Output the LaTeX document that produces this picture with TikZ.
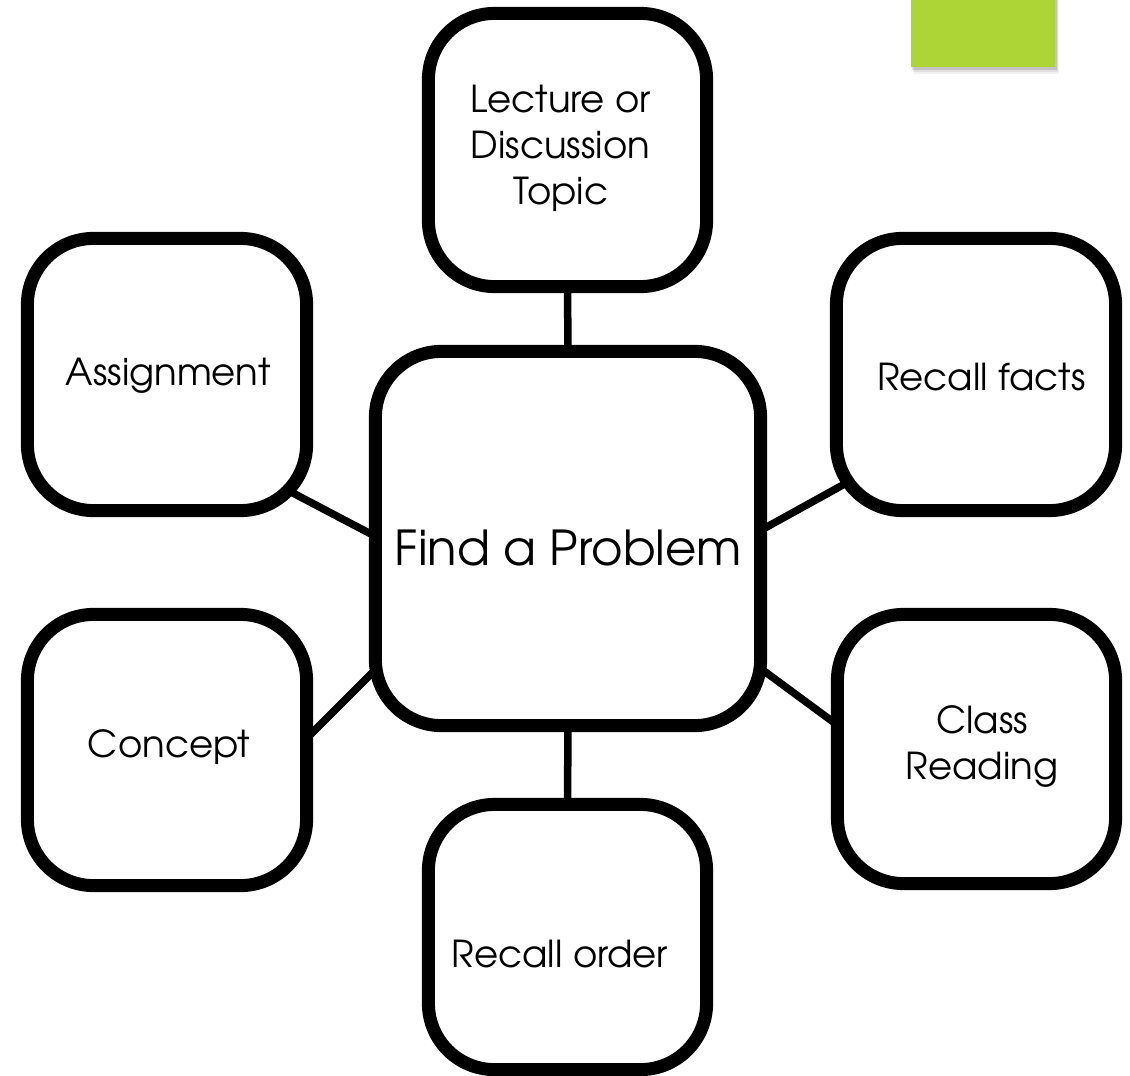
\documentclass[tikz,border=0pt]{standalone}
\usepackage{fontspec}
\setmainfont{texgyreadventor-regular.otf}
\usetikzlibrary{calc,backgrounds}
\definecolor{limetab}{HTML}{ADD535}
\begin{document}
\begin{tikzpicture}[x=0.01cm,y=-0.01cm,
  box/.style={draw=black,line width=0.13cm,rounded corners=0.66cm,fill=white,inner sep=0pt,outer sep=0pt},
  conn/.style={draw=black,line width=0.075cm},
  txt/.style={font=\fontsize{10.55pt}{12pt}\selectfont,inner sep=0pt,anchor=base},
  bigtxt/.style={font=\fontsize{13.7pt}{16pt}\selectfont,inner sep=0pt,anchor=base}]
\useasboundingbox (0,0) rectangle (1130,1076);

% green tab with soft shadow
\foreach \o/\a in {7/0.05,5/0.08,3/0.12}{
  \fill[black,opacity=\a] (911+\o*0.4,0) rectangle (1055+\o*0.6,67+\o);
}
\node[fill=limetab,minimum width=1.44cm,minimum height=0.70cm,anchor=south west,inner sep=0pt,outer sep=0pt] (tab) at (911,67) {};

% boxes
\node[box,minimum width=2.78cm,minimum height=2.73cm] (topic) at (567.5,150) {};
\node[box,minimum width=2.79cm,minimum height=2.72cm] (assign) at (167,374.5) {};
\node[box,minimum width=3.85cm,minimum height=3.74cm] (center) at (568,538.5) {};
\node[box,minimum width=2.79cm,minimum height=2.72cm] (facts) at (976,374.5) {};
\node[box,minimum width=2.79cm,minimum height=2.71cm] (concept) at (167,750) {};
\node[box,minimum width=2.78cm,minimum height=2.69cm] (reading) at (976.5,749) {};
\node[box,minimum width=2.78cm,minimum height=2.65cm] (order) at (567.5,937) {};

% texts
\node[txt] (topicA) at (560.5,113) {Lecture or};
\node[txt] (topicB) at (560.5,159) {Discussion};
\node[txt] (topicC) at (560.5,205) {Topic};
\node[txt] (assignT) at (168.5,385) {Assignment};
\node[bigtxt] (centerT) at (568.5,565) {Find a Problem};
\node[txt] (factsT) at (981.5,390) {Recall facts};
\node[txt] (conceptT) at (169,757) {Concept};
\node[txt] (readingA) at (982,733) {Class};
\node[txt] (readingB) at (982,779) {Reading};
\node[txt] (orderT) at (560,967) {Recall order};

% connectors behind the boxes
\begin{scope}[on background layer]
  \fill[white] (0,0) rectangle (1130,1076);
  \draw[conn] (topic.south) -- (center.north);
  \draw[conn] (center.south) -- (order.north);
  \draw[conn] ($(assign.center)+(103,106.5)$) -- ($(center.center)+(-178,5.5)$);
  \draw[conn] ($(facts.center)+(-106,95.5)$) -- ($(center.center)+(177,0.5)$);
  \draw[conn] ($(concept.center)+(123,5)$) -- ($(center.center)+(-178,116.5)$);
  \draw[conn] ($(reading.center)+(-121.5,-11)$) -- ($(center.center)+(177,118.5)$);
\end{scope}
\end{tikzpicture}
\end{document}
